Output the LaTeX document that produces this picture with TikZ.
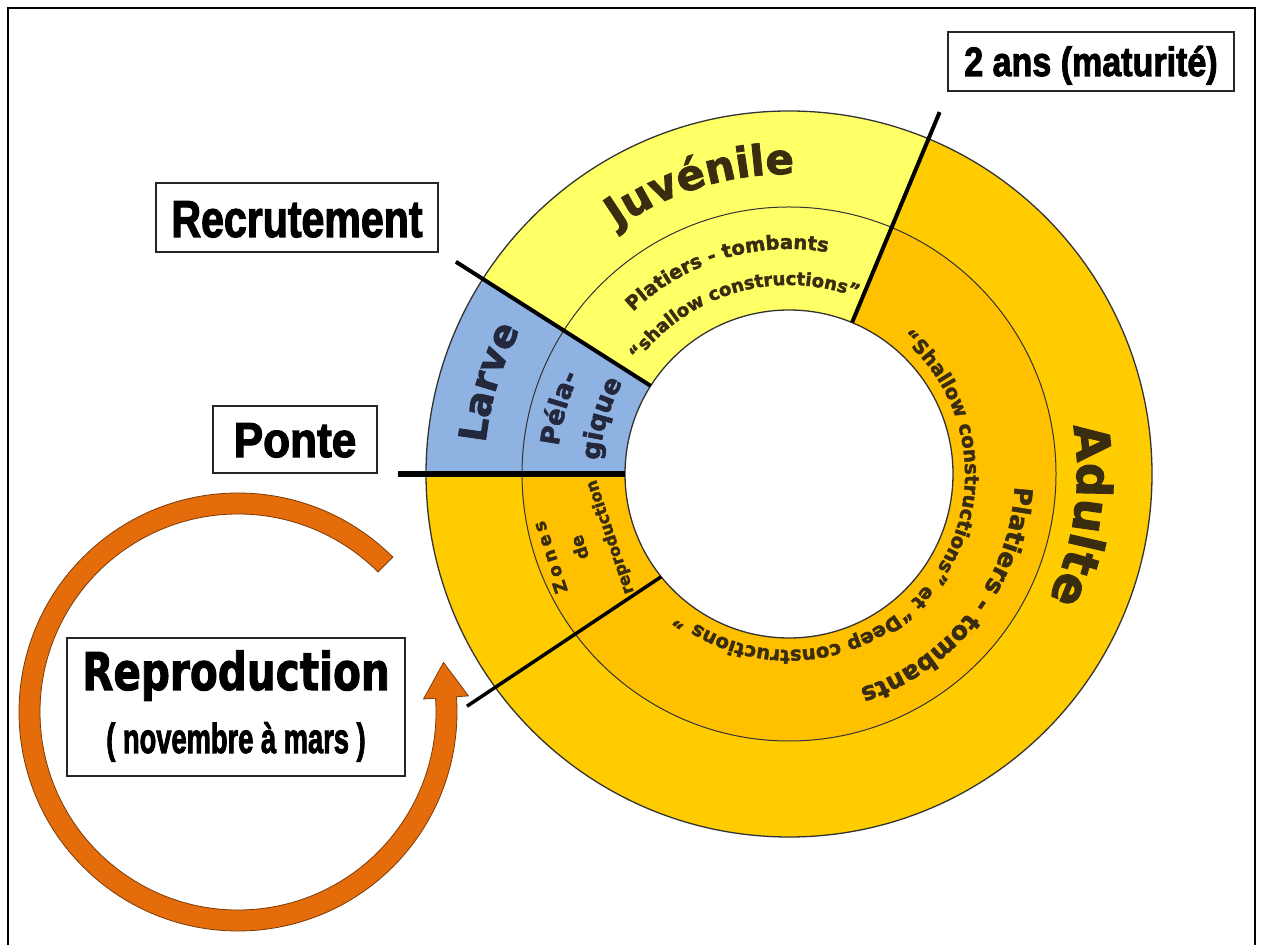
\documentclass[tikz,border=0pt]{standalone}
\usepackage{fontspec}
\usepackage{graphicx}
\setmainfont{DejaVu Sans}
\newfontfamily\blk{DejaVu Sans}[BoldFeatures={FakeBold=2}]
\newfontfamily\labfont{Liberation Sans}[BoldFeatures={FakeBold=2.5}]
\usetikzlibrary{decorations.text,calc}
\definecolor{blueL}{RGB}{142,179,226}
\definecolor{yelJ}{RGB}{255,255,102}
\definecolor{goldO}{RGB}{255,204,0}
\definecolor{goldI}{RGB}{255,192,0}
\definecolor{orangeA}{RGB}{228,108,10}
\definecolor{ringtxt}{RGB}{58,45,15}
\definecolor{bluetxt}{RGB}{35,40,60}
\newcommand\ringtext[6]{%
  \def\rtfont{\blk\bfseries\fontsize{#4}{#4}\selectfont}%
  \path[decorate,decoration={text along path,text align=center,text color=#5,
     text={|\rtfont|#6}}]
     (#2+#3:#1pt) arc[start angle=#2+#3,end angle=#2-#3,radius=#1pt];}
\newcommand\annsec[5]{%
  \fill[#1] (#2:#4pt) arc[start angle=#2,end angle=#3,radius=#4pt]
     -- (#3:#5pt) arc[start angle=#3,end angle=#2,radius=#5pt] -- cycle;}
\tikzset{
  ringline/.style={draw=black!80, line width=1.3},
  sepline/.style={draw=black, line width=4, line cap=butt},
  labelbox/.style={draw=black!85, line width=1.6, fill=white, inner sep=0pt},
}
\begin{document}
\begin{tikzpicture}[x=1pt,y=1pt]
\useasboundingbox (0,0) rectangle (1261,945);
\fill[white] (0,0) rectangle (1261,945);
% frame
\draw[line width=2.5] (8,0) -- (8,937) -- (1255,937) -- (1255,0);

% ---- ring ----
\begin{scope}[shift={(789,471)}]
  \annsec{blueL}{147.5}{180}{164}{363}
  \annsec{yelJ}{67.4}{147.5}{164}{363}
  \annsec{goldO}{180}{427.4}{267}{363}
  \annsec{goldI}{180}{427.4}{164}{267}
  \draw[ringline] (0,0) circle[radius=363pt];
  \draw[ringline, line width=1] (0,0) circle[radius=267pt];
  \draw[ringline] (0,0) circle[radius=164pt];
  % separators
  \coordinate (ponteIn) at (180:164pt);
  \coordinate (ponteOut) at (180:391pt);
  \coordinate (recrIn) at (147.5:164pt);
  \coordinate (recrOut) at (147.5:395pt);
  \coordinate (matIn) at (67.4:164pt);
  \coordinate (matOut) at (67.4:392pt);
  \coordinate (repIn) at (218.8:164pt);
  \coordinate (repOut) at (215.8:397pt);
  \draw[sepline, line width=6] (ponteOut) -- (ponteIn);
  \draw[sepline] (recrOut) -- (recrIn);
  \draw[sepline] (matOut) -- (matIn);
  \draw[sepline, line width=3.5] (repOut) -- (repIn);
  % ring texts
  \ringtext{300}{107}{40}{42}{ringtxt}{Juvénile}
  \ringtext{305}{163}{30}{38}{bluetxt}{Larve}
  \ringtext{288}{-8}{40}{48}{ringtxt}{Adulte}
  \ringtext{232}{164}{25}{26}{bluetxt}{Péla-}
  \ringtext{190}{163.5}{30}{26}{bluetxt}{gique}
  \ringtext{225}{107}{45}{19.5}{ringtxt}{Platiers - tombants}
  \ringtext{189}{106}{50}{18}{ringtxt}{“shallow constructions”}
  \ringtext{226}{-37.5}{50}{25}{ringtxt}{Platiers - tombants}
  \ringtext{176}{-39}{100}{19.5}{ringtxt}{“Shallow constructions” et “Deep constructions ”}
\end{scope}

\node[rotate=108.6, align=center, text=ringtxt,
      font=\blk\bfseries\fontsize{17.5}{31}\selectfont] (zones) at (581,398)
      {{\addfontfeature{LetterSpace=22}Zones}\\de\\{\fontsize{16.3}{31}\selectfont reproduction}};

% ---- labels ----
\node[labelbox, minimum width=286, text height=44, text depth=15, anchor=base,
      font=\labfont\bfseries\fontsize{41}{41}\selectfont] (mat) at (1091,869)
      {\scalebox{0.83}[1]{2 ans (maturité)}};
\node[labelbox, minimum width=282, text height=54, text depth=15, anchor=base,
      font=\labfont\bfseries\fontsize{52}{52}\selectfont] (recr) at (297,708)
      {\scalebox{0.79}[1]{Recrutement}};
\node[labelbox, minimum width=164, text height=51, text depth=16, anchor=base,
      font=\labfont\bfseries\fontsize{49}{49}\selectfont] (ponte) at (295,488)
      {\scalebox{0.9}[1]{Ponte}};

% ---- reproduction cycle arrow ----
\begin{scope}[shift={(238,233)}]
  \filldraw[fill=orangeA, draw=orangeA!55!black, line width=0.8]
    (45:219pt) arc[start angle=45,end angle=364,radius=219pt]
    -- (364:231pt) -- (205.5,49.5) -- (364:186pt) -- (364:198pt)
    arc[start angle=364,end angle=45,radius=198pt] -- cycle;
\end{scope}

\node[labelbox, minimum width=338, minimum height=138] (repbox) at (236,238) {};
\node[anchor=base, inner sep=0pt, font=\blk\bfseries\fontsize{52}{52}\selectfont] (rep) at (236,255)
      {\scalebox{0.78}[1]{Reproduction}};
\node[anchor=base, inner sep=0pt, font=\labfont\bfseries\fontsize{42}{42}\selectfont] (nov) at (236,192)
      {\scalebox{0.65}[1]{( novembre à mars )}};
\end{tikzpicture}
\end{document}
